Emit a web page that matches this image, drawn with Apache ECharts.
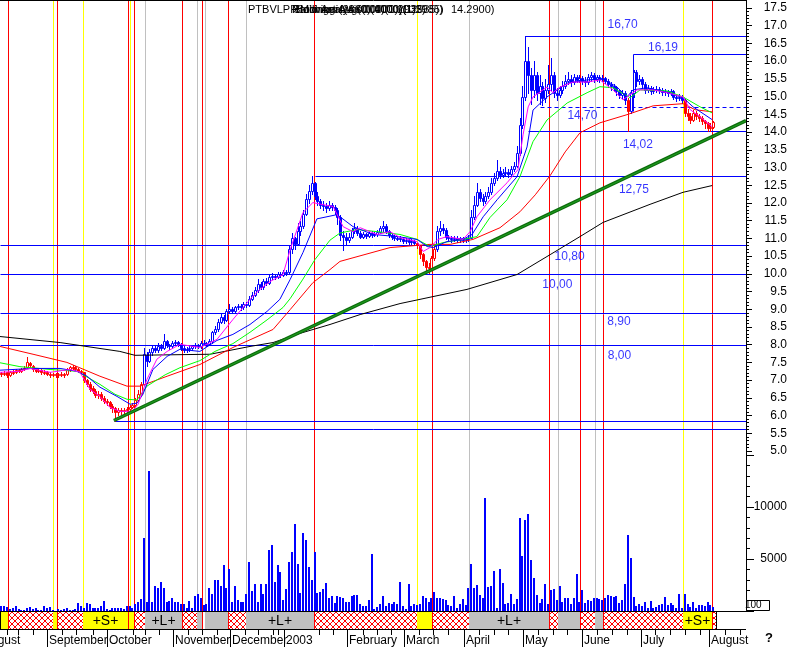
<!DOCTYPE html>
<html><head><meta charset="utf-8">
<script src="https://cdn.jsdelivr.net/npm/echarts@6/dist/echarts.min.js"></script>
<style>html,body{margin:0;padding:0;background:#fff;}#c{width:793px;height:647px;}</style>
</head><body><div id="c"></div>
<script>
// ---------------- DATA ----------------
// daily bars, day index 0..250 (Aug 2002 .. Aug 2003)
const openP = [
7.20,7.16,7.22,7.14,7.20,7.24,7.28,7.26,7.30,7.36,
7.48,7.40,7.30,7.26,7.28,7.22,7.24,7.18,7.15,7.17,
7.14,7.16,7.18,7.16,7.30,7.36,7.38,7.32,7.26,7.22,
7.00,6.90,6.78,6.70,6.58,6.62,6.50,6.42,6.38,6.28,
6.20,6.10,6.15,6.12,6.16,6.18,6.25,6.30,6.45,6.60,
6.90,7.70,7.55,7.80,7.90,7.85,7.95,7.92,8.10,7.98,
7.95,8.05,8.08,8.02,7.92,7.85,7.88,7.90,7.95,7.98,
7.96,8.04,8.05,8.02,8.10,8.35,8.45,8.65,8.78,8.70,
8.95,9.02,8.95,9.05,9.10,9.05,9.15,9.12,9.30,9.40,
9.55,9.70,9.62,9.80,9.75,9.90,9.95,9.92,10.00,9.98,
10.05,10.05,10.70,11.00,10.85,11.20,11.35,11.70,12.10,12.35,
12.55,12.20,12.05,11.95,11.90,11.85,11.95,11.88,11.80,11.60,
11.10,11.05,10.95,11.05,11.20,11.30,11.15,11.05,11.12,11.08,
11.15,11.10,11.12,11.18,11.28,11.35,11.20,11.10,11.05,11.02,
11.00,10.98,10.92,10.95,10.90,10.92,10.88,10.80,10.55,10.35,
10.20,10.15,10.45,10.70,11.20,11.30,11.25,11.05,11.00,10.98,
11.02,10.95,11.00,10.96,10.98,11.02,11.60,11.95,12.30,12.15,
12.05,12.20,12.30,12.55,12.70,12.90,12.80,12.85,12.88,12.82,
12.95,13.05,13.40,14.20,15.00,16.00,15.60,15.20,15.60,15.10,
15.30,14.95,15.20,15.35,15.60,15.10,15.05,15.20,15.30,15.45,
15.50,15.40,15.55,15.48,15.52,15.45,15.40,15.55,15.60,15.50,
15.55,15.50,15.52,15.45,15.35,15.30,15.25,15.15,15.05,15.10,
14.90,14.60,15.10,15.70,15.45,15.50,15.35,15.20,15.25,15.15,
15.20,15.22,15.18,15.12,15.15,15.10,15.15,15.00,14.95,15.00,
14.90,14.55,14.45,14.35,14.55,14.45,14.40,14.30,14.25,14.10,14.15];
const closeP = [
7.16,7.20,7.14,7.22,7.23,7.28,7.25,7.30,7.33,7.50,
7.44,7.30,7.26,7.28,7.22,7.24,7.18,7.15,7.17,7.14,
7.16,7.18,7.14,7.30,7.36,7.38,7.32,7.26,7.24,7.00,
6.90,6.76,6.70,6.58,6.62,6.50,6.42,6.38,6.28,6.22,
6.10,6.15,6.12,6.16,6.18,6.25,6.30,6.45,6.60,6.90,
7.75,7.55,7.80,7.90,7.85,7.95,7.92,8.10,7.98,7.95,
8.05,8.08,8.02,7.92,7.85,7.88,7.90,7.95,7.98,7.96,
8.04,8.05,8.02,8.10,8.35,8.45,8.65,8.78,8.70,8.95,
9.02,8.95,9.05,9.10,9.05,9.15,9.12,9.30,9.40,9.55,
9.70,9.62,9.80,9.75,9.90,9.95,9.92,10.00,9.98,10.05,
10.02,10.70,11.00,10.85,11.20,11.35,11.70,12.10,12.35,12.55,
12.20,12.05,11.95,11.90,11.85,11.95,11.88,11.80,11.60,11.10,
11.05,10.95,11.05,11.20,11.30,11.15,11.05,11.12,11.08,11.15,
11.10,11.12,11.18,11.28,11.35,11.20,11.10,11.05,11.02,11.00,
10.98,10.92,10.95,10.90,10.92,10.88,10.80,10.55,10.35,10.20,
10.15,10.45,10.70,11.20,11.30,11.25,11.05,11.00,10.98,11.02,
10.95,11.00,10.96,10.98,11.02,11.60,11.95,12.30,12.15,12.05,
12.20,12.30,12.55,12.70,12.90,12.80,12.85,12.88,12.82,12.95,
13.05,13.40,14.20,15.00,16.00,15.60,15.20,15.60,15.10,15.30,
14.95,15.20,15.35,15.60,15.10,15.05,15.20,15.30,15.45,15.50,
15.40,15.55,15.48,15.52,15.45,15.40,15.55,15.60,15.50,15.55,
15.50,15.52,15.45,15.35,15.30,15.25,15.15,15.05,15.10,14.90,
14.60,15.10,15.70,15.45,15.50,15.35,15.20,15.25,15.15,15.20,
15.22,15.18,15.12,15.15,15.10,15.15,15.00,14.95,15.00,14.90,
14.55,14.45,14.35,14.55,14.45,14.40,14.30,14.25,14.10,14.15,14.29];
const lowP = [
7.12,7.14,7.10,7.12,7.18,7.20,7.22,7.24,7.28,7.34,
7.38,7.26,7.22,7.22,7.18,7.18,7.14,7.10,7.12,7.10,
7.10,7.12,7.10,7.14,7.26,7.32,7.28,7.22,7.18,6.96,
6.84,6.70,6.64,6.52,6.50,6.44,6.36,6.30,6.20,6.10,
5.86,6.02,6.04,6.06,6.10,6.12,6.20,6.26,6.40,6.55,
6.85,7.40,7.50,7.70,7.78,7.80,7.86,7.88,7.94,7.88,
7.92,8.00,7.96,7.86,7.80,7.80,7.82,7.86,7.90,7.90,
7.92,7.98,7.96,7.98,8.06,8.30,8.40,8.60,8.62,8.66,
8.90,8.88,8.90,9.00,8.98,9.00,9.06,9.10,9.26,9.36,
9.50,9.56,9.58,9.68,9.72,9.84,9.86,9.88,9.92,9.94,
9.96,10.00,10.60,10.70,10.80,11.10,11.30,11.65,12.00,12.25,
12.10,11.95,11.85,11.80,11.75,11.80,11.80,11.70,11.40,10.95,
10.68,10.80,10.90,11.00,11.15,11.10,11.00,11.00,11.02,11.04,
11.05,11.06,11.08,11.14,11.22,11.14,11.04,10.98,10.96,10.94,
10.92,10.86,10.86,10.84,10.84,10.82,10.72,10.45,10.25,10.07,
10.02,10.10,10.40,10.65,11.10,11.15,10.98,10.92,10.90,10.92,
10.90,10.90,10.90,10.90,10.92,11.00,11.55,11.90,12.05,11.95,
12.00,12.15,12.25,12.50,12.65,12.70,12.72,12.75,12.72,12.78,
12.90,13.00,13.35,14.10,14.90,15.10,14.80,15.00,14.90,14.80,
14.75,14.85,15.10,15.20,15.00,14.90,15.00,15.10,15.25,15.35,
15.30,15.35,15.40,15.40,15.35,15.30,15.35,15.45,15.42,15.45,
15.40,15.44,15.38,15.28,15.20,15.15,15.05,14.95,14.95,14.80,
14.02,14.55,15.00,15.30,15.35,15.25,15.10,15.12,15.08,15.10,
15.12,15.10,15.05,15.05,15.02,15.05,14.92,14.88,14.90,14.82,
14.45,14.35,14.25,14.30,14.38,14.30,14.22,14.10,14.02,14.02,14.10];
const highP = [
7.24,7.26,7.24,7.26,7.28,7.32,7.30,7.34,7.40,7.64,
7.52,7.42,7.32,7.32,7.30,7.28,7.26,7.22,7.20,7.20,
7.20,7.22,7.20,7.34,7.40,7.42,7.40,7.34,7.28,7.24,
7.04,6.94,6.82,6.74,6.70,6.66,6.56,6.46,6.42,6.32,
6.24,6.20,6.20,6.22,6.24,6.30,6.36,6.50,6.72,6.95,
7.90,7.80,7.88,8.00,7.98,8.05,8.02,8.29,8.14,8.02,
8.10,8.14,8.10,8.04,7.96,7.94,7.96,8.00,8.04,8.02,
8.10,8.12,8.08,8.16,8.40,8.52,8.72,8.90,8.84,9.02,
9.14,9.06,9.10,9.16,9.14,9.20,9.20,9.36,9.48,9.62,
9.84,9.76,9.86,9.88,9.96,10.02,10.00,10.06,10.04,10.10,
10.10,10.80,11.16,11.05,11.44,11.50,11.80,12.25,12.50,12.75,
12.60,12.30,12.10,12.05,12.00,12.05,12.00,11.95,11.85,11.65,
11.20,11.15,11.15,11.30,11.44,11.35,11.20,11.18,11.16,11.20,
11.20,11.18,11.24,11.36,11.48,11.40,11.24,11.14,11.10,11.08,
11.06,11.04,11.00,10.98,10.98,10.96,10.90,10.82,10.60,10.40,
10.30,10.50,10.80,11.35,11.48,11.40,11.30,11.10,11.06,11.08,
11.06,11.04,11.04,11.02,11.10,11.80,12.20,12.57,12.40,12.25,
12.30,12.45,12.70,12.85,13.20,13.00,12.95,13.00,12.95,13.05,
13.15,13.60,14.40,15.30,16.70,16.40,15.80,16.00,15.70,15.60,
15.40,15.50,15.90,16.09,15.70,15.25,15.30,15.45,15.60,15.70,
15.60,15.65,15.60,15.62,15.58,15.55,15.65,15.70,15.66,15.62,
15.60,15.60,15.56,15.50,15.40,15.35,15.30,15.20,15.18,15.15,
14.95,15.20,15.75,15.75,15.60,15.55,15.40,15.32,15.30,15.28,
15.30,15.28,15.25,15.22,15.20,15.22,15.18,15.05,15.08,15.05,
14.92,14.65,14.55,14.62,14.60,14.52,14.45,14.35,14.28,14.25,14.32];
// runs of days drawn in red (down-trend regime)
const redRuns = [[0,49],[146,152],[220,220],[240,250]];
const volume = [
513,449,385,192,320,513,192,128,128,320,
385,192,256,128,128,513,320,385,128,30,
192,128,192,256,128,128,192,769,449,256,
769,641,320,256,320,449,929,192,128,256,
256,320,320,192,449,449,256,705,897,1154,
7051,897,13493,897,2372,2179,2820,2179,897,962,
1282,897,897,641,705,256,962,256,1410,1667,
1282,577,705,2179,1603,2949,3013,2372,4423,2244,
4038,897,2372,1090,897,897,1667,4679,1923,2628,
897,2628,1667,2628,5833,6346,2756,4423,3718,1090,
2115,4743,5705,8333,4487,1731,7500,6859,4231,3013,
5705,1731,1859,2115,2692,1218,1474,769,1474,1346,
1282,897,897,1410,1538,1538,705,513,513,1090,
5513,192,385,705,1410,449,769,641,897,705,
2756,449,192,2628,449,705,577,705,1410,1218,
897,1218,1859,1282,1218,1154,1026,577,513,1474,
320,705,1154,577,2244,4551,2244,2500,1538,1218,
10897,2308,2436,3846,256,4038,2692,641,769,1603,
705,1154,8974,5320,8718,9359,4936,3205,1538,769,
1154,2564,705,1987,2115,1090,2436,897,1218,1218,
641,1282,3590,897,2051,769,1090,962,1218,1282,
1154,1090,1282,1538,1410,1346,1410,769,1090,2564,
7308,5064,1346,449,705,513,897,320,962,320,
385,577,705,1346,577,769,577,320,1667,320,
1667,705,385,833,256,577,577,513,833,577,385];
// moving averages [day, value]
const maMagenta = [[-0.5,7.22],[6.5,7.25],[10.0,7.33],[17.1,7.22],[24.1,7.30],[27.6,7.22],[31.1,6.74],[34.6,6.54],[38.1,6.23],[41.6,6.12],[45.9,6.12],[48.0,6.32],[51.1,7.02],[54.6,7.59],[58.2,7.81],[62.7,8.01],[69.7,7.92],[75.7,8.15],[81.3,8.71],[87.3,9.28],[90.8,9.56],[94.3,9.78],[98.9,9.98],[101.4,10.68],[105.9,11.73],[109.4,12.01],[113.0,11.95],[116.5,11.90],[120.0,11.33],[123.5,11.19],[126.0,11.30],[131.9,11.11],[136.5,11.19],[140.0,11.02],[146.0,10.91],[148.1,10.63],[150.5,10.74],[153.3,10.97],[156.5,11.05],[162.1,10.97],[164.6,11.19],[167.0,11.61],[171.6,12.09],[177.6,12.57],[181.4,12.94],[183.2,13.92],[185.0,14.71],[186.7,14.99],[191.6,15.27],[193.7,15.11],[196.2,15.27],[200.8,15.41],[205.7,15.41],[210.2,15.47],[214.8,15.19],[218.3,14.91],[220.8,15.05],[223.2,15.19],[228.9,15.19],[233.8,15.11],[239.4,14.99],[241.9,14.63],[245.4,14.43],[249.6,14.15]];
const maBlue = [[-0.5,7.28],[11.1,7.33],[20.6,7.33],[26.5,7.25],[30.1,7.11],[34.6,6.80],[40.6,6.54],[45.2,6.32],[47.6,6.35],[49.7,6.60],[53.2,7.30],[58.2,7.67],[62.7,7.87],[69.7,7.81],[75.7,8.12],[81.3,8.29],[87.3,8.57],[93.3,8.94],[97.8,9.28],[101.4,9.84],[105.9,10.60],[110.8,11.55],[117.9,11.67],[123.5,11.33],[130.5,11.11],[139.0,11.05],[146.0,10.97],[149.5,10.77],[151.6,10.74],[156.5,10.91],[162.1,10.97],[165.3,11.11],[169.2,11.61],[174.1,12.09],[181.1,12.74],[184.6,13.58],[186.7,14.62],[191.6,14.99],[198.7,15.38],[205.7,15.47],[211.3,15.50],[216.2,15.27],[219.7,14.99],[221.8,15.19],[226.8,15.25],[233.8,15.11],[239.4,14.97],[242.9,14.71],[249.6,14.35]];
const maGreen = [[-0.5,7.49],[6.5,7.38],[17.1,7.30],[26.5,7.25],[34.6,6.88],[39.9,6.60],[44.1,6.46],[47.6,6.44],[51.1,6.83],[57.5,7.15],[62.7,7.35],[69.7,7.55],[75.0,7.81],[81.3,8.03],[87.3,8.35],[93.3,8.70],[98.9,9.05],[101.4,9.30],[105.9,9.85],[110.1,10.40],[115.4,10.95],[118.9,11.15],[124.9,11.25],[131.9,11.19],[140.0,11.11],[146.0,10.97],[150.5,10.77],[155.1,10.88],[162.1,10.97],[167.0,11.05],[171.6,11.59],[177.6,12.09],[182.1,12.74],[186.7,13.73],[191.6,14.34],[198.7,14.82],[205.7,15.11],[210.2,15.28],[214.8,15.25],[220.8,14.97],[224.3,15.19],[233.8,15.16],[239.4,14.99],[245.4,14.71],[249.6,14.54]];
const maRed = [[-0.5,7.95],[11.1,7.73],[23.0,7.50],[34.6,7.11],[44.1,6.83],[48.7,6.83],[58.2,7.11],[69.7,7.44],[81.3,7.92],[95.4,8.43],[101.4,8.99],[109.4,9.75],[115.4,10.12],[118.9,10.35],[136.5,10.74],[150.5,10.83],[157.6,10.83],[165.6,10.97],[175.1,11.30],[182.1,11.75],[187.5,12.23],[192.7,12.77],[198.0,13.44],[203.2,13.98],[210.2,14.26],[219.7,14.49],[228.9,14.74],[239.4,14.80],[243.6,14.63],[249.6,14.57]];
const maBlack = [[-0.5,8.23],[20.6,8.06],[41.6,7.81],[46.9,7.70],[73.3,7.73],[87.3,7.95],[95.4,8.06],[104.9,8.32],[115.4,8.57],[126.0,8.85],[140.0,9.16],[163.5,9.56],[181.1,9.98],[192.7,10.54],[203.2,11.05],[211.3,11.45],[227.8,11.96],[239.4,12.30],[249.6,12.49]];
// support / resistance levels
const levelValue = [16.70, 16.19, 14.70, 14.02, 12.75, 10.80, 10.00, 8.90, 8.00, 5.86, 5.63];
const levelStart = [183.9, 221.8, 189.2, 185.1, 110.1, -0.5, -0.5, -0.5, -0.5, 39.5, -0.5];
const levelDashed = [0, 0, 1, 0, 0, 0, 0, 0, 0, 0, 0];
const levelDropTo = [0, 14.60, 0, 0, 0, 0, 0, 0, 0, 0, 0];
const levelText = ['16,70','16,19','14,70','14,02','12,75','10,80','10,00','8,90','8,00'];
const levelTextPos = [[212.7,17.02],[226.9,16.37],[198.6,14.46],[218.1,13.64],[216.7,12.37],[194.1,10.48],[189.8,9.69],[212.6,8.66],[212.8,7.68]];
// trend line
const trendLine = [[39.5, 5.86], [261.5, 14.32]];
// event markers (day positions)
const redMarks = [2.4, 19.6, 44.6, 46.7, 63.5, 70.6, 79.7, 109.9, 151.1, 192.3, 203.3, 211.4, 249.5];
const yellowMarks = [18.2, 28.8, 45.2, 146.1, 239.5];
const grayMarks = [50.5, 68.8, 71.6, 85.8, 164.3, 195.3, 208.4];
// signal strip
const stripStart = [-0.5, 2.4, 18.2, 19.6, 28.8, 44.6, 46.7, 50.5, 63.5, 68.8, 70.6, 71.6, 79.7, 85.8, 109.9, 146.1, 151.1, 164.3, 192.3, 195.3, 203.3, 208.4, 211.4, 239.5, 249.5];
const stripEnd   = [2.4, 18.2, 19.6, 28.8, 44.6, 46.7, 50.5, 63.5, 68.8, 70.6, 71.6, 79.7, 85.8, 109.9, 146.1, 151.1, 164.3, 192.3, 195.3, 203.3, 208.4, 211.4, 239.5, 249.5, 251.0];
const stripKind  = ['Y','H','Y','H','Y','Y','H','G','H','G','W','G','H','G','H','Y','H','G','H','G','H','G','H','Y','H'];
const stripText  = ['','','','','+S+','','','+L+','','','','','','+L+','','','','+L+','','','','','','+S+',''];
// calendar
const monthNames = ['August','September','October','November','December','2003','February','March','April','May','June','July','August'];
const monthDays = [-7.2, 16.0, 37.1, 60.3, 80.3, 99.3, 121.4, 141.4, 162.5, 183.2, 203.9, 224.6, 248.5];
const weekDays = [2.1, 5.9, 11.2, 21.4, 26.2, 32.1, 46.1, 50.4, 55.5, 65.4, 70.3, 75.6, 85.6, 90.2, 95.5, 97.3, 111.7, 116.6, 126.9, 131.8, 136.7, 146.7, 151.6, 156.9, 167.7, 173.0, 177.9, 188.5, 193.7, 198.7, 209.2, 214.5, 219.7, 229.6, 234.8, 240.1, 245.4, 254.1, 259.4];

// ---------------- CHART ----------------
const FONT = '"Liberation Sans", Arial, sans-serif';
const BLUE = '#0000ff', RED = '#ff0000';
const isRed = i => redRuns.some(r => i >= r[0] && i <= r[1]);
const n = Math.min(openP.length, closeP.length, lowP.length, highP.length);
const candleData = [];
for (let i = 0; i < n; i++) candleData.push([i, openP[i], closeP[i], lowP[i], highP[i], isRed(i) ? 1 : 0]);
const volData = volume.map((v, i) => [i, v]);

// crosshatch pattern
const pc = document.createElement('canvas'); pc.width = 6; pc.height = 6;
const g = pc.getContext('2d');
g.fillStyle = '#ffffff'; g.fillRect(0, 0, 6, 6);
g.strokeStyle = '#ff0000'; g.lineWidth = 1;
g.beginPath(); g.moveTo(0, 0); g.lineTo(6, 6); g.moveTo(6, 0); g.lineTo(0, 6); g.stroke();
const hatch = {image: pc, repeat: 'repeat'};
const kindFill = {Y: '#ffff00', G: '#c0c0c0', W: '#ffffff', H: hatch};

const X0 = -0.5, X1 = 261.5;
const grids = [
  {left: 0, width: 746, top: 8, height: 443},
  {left: 0, width: 746, top: 455, height: 156},
  {left: 0, width: 746, top: 611, height: 18},
  {left: 0, width: 746, top: 0, height: 629},
  {left: 0, width: 746, top: 629, height: 18}
];
grids.forEach(gd => { gd.containLabel = false; gd.outerBoundsMode = 'none'; });
const xAxis = grids.map((gd, i) => ({gridIndex: i, type: 'value', min: X0, max: X1, show: false}));
const hiddenY = i => ({gridIndex: i, type: 'value', min: 0, max: 1, show: false});
const yAxis = [
  {gridIndex: 0, type: 'value', position: 'right', min: 5, max: 17.5, interval: 0.5,
   axisLine: {show: true, onZero: false, lineStyle: {color: '#000', width: 1}},
   axisTick: {show: true, length: 6, lineStyle: {color: '#000'}},
   minorTick: {show: true, splitNumber: 5, length: 3, lineStyle: {color: '#000'}},
   splitLine: {show: false},
   axisLabel: {color: '#000', fontSize: 12, fontFamily: FONT, align: 'right', margin: 41, formatter: v => v.toFixed(1)}},
  {gridIndex: 1, type: 'value', position: 'right', min: 0, max: 15000, interval: 5000,
   axisLine: {show: true, onZero: false, lineStyle: {color: '#000', width: 1}},
   axisTick: {show: true, length: 8, lineStyle: {color: '#000'}},
   minorTick: {show: true, splitNumber: 5, length: 4, lineStyle: {color: '#000'}},
   splitLine: {show: false},
   axisLabel: {color: '#000', fontSize: 12, fontFamily: FONT, align: 'right', margin: 41, formatter: v => (v === 5000 || v === 10000) ? String(v) : ''}},
  hiddenY(2), hiddenY(3), hiddenY(4)
];

function vlineSeries(days, color) {
  return {type: 'custom', xAxisIndex: 3, yAxisIndex: 3, z: 2, silent: true,
    data: days.map(d => [d, 0]), encode: {x: 0, y: 1},
    renderItem: (params, api) => {
      const x = Math.round(api.coord([api.value(0), 0])[0]) + 0.5;
      const cs = params.coordSys;
      return {type: 'line', shape: {x1: x, y1: cs.y, x2: x, y2: cs.y + cs.height}, style: {stroke: color, lineWidth: 1}};
    }};
}
function maSeries(data, color, z) {
  return {type: 'line', xAxisIndex: 0, yAxisIndex: 0, data: data, showSymbol: false, symbol: 'none', silent: true,
    z: z || 5, lineStyle: {color: color, width: 1}, animation: false};
}

const series = [];
// signal strip
series.push({type: 'custom', xAxisIndex: 2, yAxisIndex: 2, z: 1, silent: true,
  data: stripStart.map((s, i) => [s, stripEnd[i]]), encode: {x: [0, 1]},
  renderItem: (params, api) => {
    const i = params.dataIndex, cs = params.coordSys;
    const x0 = Math.max(0, Math.round(api.coord([api.value(0), 0])[0]));
    const x1 = Math.round(api.coord([api.value(1), 0])[0]);
    const ch = [{type: 'rect', shape: {x: x0 + 0.5, y: cs.y + 0.5, width: x1 - x0, height: cs.height},
      style: {fill: kindFill[stripKind[i]], stroke: '#000', lineWidth: 1}}];
    if (stripText[i]) ch.push({type: 'text', x: (x0 + x1) / 2, y: cs.y + cs.height / 2 + 1,
      style: {text: stripText[i], fill: '#000', font: '14px ' + FONT, textAlign: 'center', textVerticalAlign: 'middle', verticalAlign: 'middle', align: 'center'}});
    return {type: 'group', children: ch};
  }});
// event markers
series.push(vlineSeries(grayMarks, '#c0c0c0'));
series.push(vlineSeries(yellowMarks, '#ffff00'));
series.push(vlineSeries(redMarks, '#ff0000'));
// levels (crisp lines)
series.push({type: 'custom', xAxisIndex: 0, yAxisIndex: 0, z: 3, silent: true,
  data: levelValue.map((v, i) => [levelStart[i], v, levelDropTo[i]]), encode: {x: 0, y: 1},
  renderItem: (params, api) => {
    const i = params.dataIndex;
    const x0 = Math.max(0, Math.round(api.coord([api.value(0), api.value(1)])[0])) + 0.5;
    const y = Math.round(api.coord([api.value(0), api.value(1)])[1]) + 0.5;
    const x1 = Math.round(api.coord([X1, api.value(1)])[0]);
    const pts = [];
    if (api.value(2)) pts.push([x0, Math.round(api.coord([api.value(0), api.value(2)])[1]) + 0.5]);
    pts.push([x0, y]); pts.push([x1, y]);
    return {type: 'polyline', shape: {points: pts},
      style: {stroke: BLUE, lineWidth: 1, fill: null, lineDash: levelDashed[i] ? [4, 3] : null}};
  }});
// volume
series.push({type: 'custom', xAxisIndex: 1, yAxisIndex: 1, z: 3, silent: true, data: volData, encode: {x: 0, y: 1},
  renderItem: (params, api) => {
    const p0 = api.coord([api.value(0), 0]);
    const p1 = api.coord([api.value(0), api.value(1)]);
    const x = Math.round(p0[0]) - 1;
    return {type: 'rect', shape: {x: x, y: Math.round(p1[1]), width: 2, height: Math.round(p0[1]) - Math.round(p1[1])}, style: {fill: BLUE}};
  }});
// MAs (slow first)
series.push(maSeries(maBlack, '#000000', 4));
series.push(maSeries(maRed, '#ff0000', 4));
// candles
series.push({type: 'custom', xAxisIndex: 0, yAxisIndex: 0, z: 4, silent: true, data: candleData, encode: {x: 0, y: [1, 2, 3, 4]},
  renderItem: (params, api) => {
    const d = api.value(0), o = api.value(1), c = api.value(2), l = api.value(3), h = api.value(4);
    const col = api.value(5) ? RED : BLUE;
    const cx = Math.round(api.coord([d, o])[0]);
    const yo = api.coord([d, o])[1], yc = api.coord([d, c])[1];
    const yl = Math.round(api.coord([d, l])[1]), yh = Math.round(api.coord([d, h])[1]);
    const top = Math.round(Math.min(yo, yc)), bot = Math.round(Math.max(yo, yc));
    return {type: 'group', children: [
      {type: 'line', shape: {x1: cx + 0.5, y1: yh, x2: cx + 0.5, y2: yl + 1}, style: {stroke: col, lineWidth: 1}},
      {type: 'rect', shape: {x: cx - 0.5, y: top + 0.5, width: 2, height: Math.max(1, bot - top)},
       style: {fill: c >= o ? '#ffffff' : col, stroke: col, lineWidth: 1}}
    ]};
  }});
series.push(maSeries(maGreen, '#00ff00', 5));
series.push(maSeries(maBlue, '#0000ff', 5));
series.push(maSeries(maMagenta, '#ff00ff', 6));
// trend line
series.push({type: 'line', xAxisIndex: 0, yAxisIndex: 0, data: trendLine, symbol: 'none', silent: true, z: 7,
  lineStyle: {color: '#0b6b0b', width: 3.5}});
series.push({type: 'line', xAxisIndex: 0, yAxisIndex: 0, data: trendLine, symbol: 'none', silent: true, z: 8,
  lineStyle: {color: '#1f9a1f', width: 1.2}});
// level labels
series.push({type: 'scatter', xAxisIndex: 0, yAxisIndex: 0, data: levelTextPos, symbolSize: 1, silent: true, z: 9,
  itemStyle: {color: 'rgba(0,0,0,0)'},
  label: {show: true, position: 'right', distance: 0, color: BLUE, fontSize: 12, fontFamily: FONT,
    formatter: p => levelText[p.dataIndex]}});
// calendar row
series.push({type: 'custom', xAxisIndex: 4, yAxisIndex: 4, z: 2, silent: true,
  data: weekDays.map(d => [d, 0]), encode: {x: 0, y: 1},
  renderItem: (params, api) => {
    const x = Math.round(api.coord([api.value(0), 0])[0]) + 0.5, cs = params.coordSys;
    return {type: 'line', shape: {x1: x, y1: cs.y, x2: x, y2: cs.y + 6}, style: {stroke: '#000', lineWidth: 1}};
  }});
series.push({type: 'custom', xAxisIndex: 4, yAxisIndex: 4, z: 2, silent: true,
  data: monthDays.map(d => [d, 0]), encode: {x: 0, y: 1},
  renderItem: (params, api) => {
    const i = params.dataIndex, cs = params.coordSys;
    const x = Math.round(api.coord([api.value(0), 0])[0]) + 0.5;
    return {type: 'group', children: [
      {type: 'line', shape: {x1: x, y1: cs.y, x2: x, y2: cs.y + cs.height}, style: {stroke: '#000', lineWidth: 1}},
      {type: 'text', x: x + 1.5, y: cs.y + cs.height / 2 + 3,
       style: {text: monthNames[i], fill: '#000', font: '12px ' + FONT, textVerticalAlign: 'middle', verticalAlign: 'middle'}}
    ]};
  }});

const titleFont = '11px ' + FONT;
const option = {
  animation: false,
  backgroundColor: '#ffffff',
  grid: grids, xAxis: xAxis, yAxis: yAxis, series: series,
  graphic: [
    {type: 'line', silent: true, z: 100, shape: {x1: 0, y1: 0.5, x2: 747, y2: 0.5}, style: {stroke: '#000', lineWidth: 1}},
    {type: 'line', silent: true, z: 100, shape: {x1: 746.5, y1: 0, x2: 746.5, y2: 611}, style: {stroke: '#000', lineWidth: 1}},
    {type: 'line', silent: true, z: 100, shape: {x1: 0, y1: 611.5, x2: 746, y2: 611.5}, style: {stroke: '#000', lineWidth: 1}},
    {type: 'line', silent: true, z: 100, shape: {x1: 0, y1: 629.5, x2: 746, y2: 629.5}, style: {stroke: '#000', lineWidth: 1}},
    {type: 'rect', silent: true, z: 100, shape: {x: 746.5, y: 600.5, width: 23, height: 10}, style: {fill: '#fff', stroke: '#000', lineWidth: 1}},
    {type: 'text', silent: true, z: 101, x: 745, y: 600, style: {text: '100', fill: '#000', font: '10px ' + FONT}},
    {type: 'text', silent: true, z: 101, x: 765, y: 632, style: {text: '?', fill: '#000', font: 'bold 13px ' + FONT}},
    {type: 'text', silent: true, z: 101, x: 248, y: 4, style: {text: 'PTBVLPR', fill: '#000', font: titleFont}},
    {type: 'text', silent: true, z: 101, x: 292, y: 4, style: {text: 'Ratio Analysis(0.0000)(1.2985)', fill: '#000', font: titleFont}},
    {type: 'text', silent: true, z: 101, x: 293, y: 4, style: {text: 'Stochastic(4.0000)(1.2935)', fill: '#000', font: titleFont}},
    {type: 'text', silent: true, z: 101, x: 296, y: 4, style: {text: 'Bollinger(2860)(4000)(1)', fill: '#000', font: titleFont}},
    {type: 'text', silent: true, z: 101, x: 300, y: 4, style: {text: 'Moving Avg(0.0000)(1.2935))', fill: '#000', font: titleFont}},
    {type: 'text', silent: true, z: 101, x: 451, y: 4, style: {text: '14.2900)', fill: '#000', font: titleFont}}
  ]
};
const chart = echarts.init(document.getElementById('c'), null, {renderer: 'canvas', width: 793, height: 647});
chart.setOption(option);
</script>
</body></html>
